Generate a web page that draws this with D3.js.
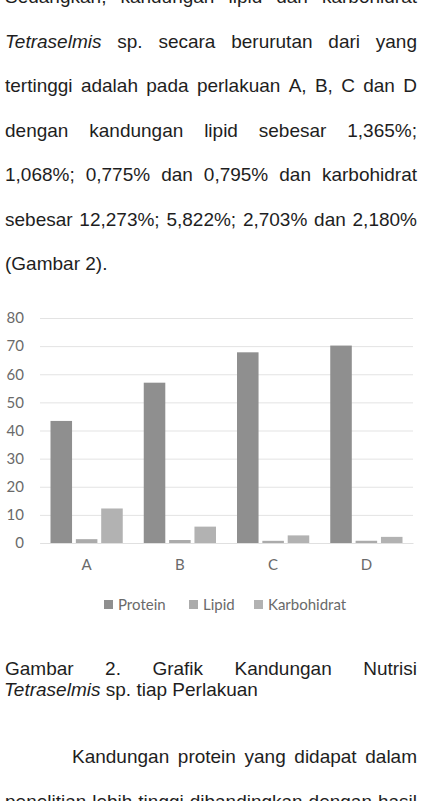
<!DOCTYPE html>
<html>
<head>
<meta charset="utf-8">
<script src="https://cdn.jsdelivr.net/npm/d3@7/dist/d3.min.js"></script>
<style>
html,body{margin:0;padding:0;background:#fff;overflow:hidden;}
svg{display:block;}
</style>
</head>
<body>
<svg id="c" width="429" height="801"></svg>
<script>
// ---- data ----
const categories = ["A", "B", "C", "D"];
const seriesNames = ["Protein", "Lipid", "Karbohidrat"];
const protein = [43.4, 57.0, 67.8, 70.2];
const lipid = [1.365, 1.068, 0.775, 0.795];
const karbohidrat = [12.273, 5.822, 2.703, 2.180];
const yTicks = [0, 10, 20, 30, 40, 50, 60, 70, 80];

// body text lines: [words..], italic marked with *
const textBefore = [
  "Sedangkan, kandungan lipid dan karbohidrat",
  "*Tetraselmis* sp. secara berurutan dari yang",
  "tertinggi adalah pada perlakuan A, B, C dan D",
  "dengan kandungan lipid sebesar 1,365%;",
  "1,068%; 0,775% dan 0,795% dan karbohidrat",
  "sebesar 12,273%; 5,822%; 2,703% dan 2,180%",
  "(Gambar 2)."
];
const captionLines = [
  "Gambar 2. Grafik Kandungan Nutrisi",
  "*Tetraselmis* sp. tiap Perlakuan"
];
const textAfter = [
  "Kandungan protein yang didapat dalam",
  "penelitian lebih tinggi dibandingkan dengan hasil"
];

const svg = d3.select("#c");
const bodyFont = "'Liberation Sans', Arial, sans-serif";
const chartFont = "Lato, 'Open Sans', sans-serif";

function drawLine(str, x0, x1, baseline, justify) {
  const words = str.split(" ").map(w => {
    const it = w.startsWith("*") && w.endsWith("*");
    return {t: it ? w.slice(1, -1) : w, it};
  });
  const g = svg.append("text")
    .attr("y", baseline)
    .attr("font-family", bodyFont)
    .attr("font-size", 19)
    .attr("fill", "#1e1e1e");
  const spans = words.map(w => g.append("tspan")
    .attr("font-style", w.it ? "italic" : "normal")
    .text(w.t));
  const widths = spans.map(s => s.node().getComputedTextLength());
  const total = d3.sum(widths);
  const gap = justify && words.length > 1 ? (x1 - x0 - total) / (words.length - 1) : 5.3;
  let x = x0;
  spans.forEach((s, i) => { s.attr("x", x); x += widths[i] + gap; });
}

// paragraph before chart
const left = 5, right = 417;
textBefore.forEach((l, i) => drawLine(l, left, right, 3 + i * 44.5, i < textBefore.length - 1));

// ---- chart ----
const x0 = d3.scaleBand().domain(categories).range([40, 413]).padding(0);
const x1 = d3.scaleBand().domain(seriesNames)
  .range([10.5, x0.bandwidth() - 10.5]).paddingInner(0.15);
const y = d3.scaleLinear().domain([0, 80]).range([543, 318]);
const colors = {Protein: "#8f8f8f", Lipid: "#ababab", Karbohidrat: "#b2b2b2"};
const seriesData = {Protein: protein, Lipid: lipid, Karbohidrat: karbohidrat};

// gridlines
const yAxis = d3.axisLeft(y).tickValues(yTicks).tickSize(-(413 - 40)).tickPadding(16);
const ga = svg.append("g").attr("transform", "translate(40,0)").call(yAxis);
ga.select(".domain").remove();
ga.selectAll(".tick line").attr("stroke", "#e3e3e3").attr("stroke-width", 1);
ga.selectAll(".tick text")
  .attr("font-family", chartFont).attr("font-size", 15).attr("fill", "#6a6a6a");

// bars
const groups = svg.append("g").selectAll("g").data(categories).join("g")
  .attr("transform", d => `translate(${x0(d)},0)`);
groups.selectAll("rect")
  .data((d, i) => seriesNames.map(s => ({s, v: seriesData[s][i]})))
  .join("rect")
  .attr("x", d => x1(d.s))
  .attr("width", x1.bandwidth())
  .attr("y", d => y(d.v))
  .attr("height", d => y(0) - y(d.v))
  .attr("fill", d => colors[d.s]);

// x axis labels
const xAxis = d3.axisBottom(x0).tickSize(0).tickPadding(16);
const gx = svg.append("g").attr("transform", "translate(0,543)").call(xAxis);
gx.select(".domain").attr("stroke", "#e0e0e0");
gx.selectAll(".tick text")
  .attr("font-family", chartFont).attr("font-size", 15).attr("fill", "#6a6a6a");

// legend
const legendX = [104, 189, 254];
const lg = svg.append("g").selectAll("g").data(seriesNames).join("g")
  .attr("transform", (d, i) => `translate(${legendX[i]},600)`);
lg.append("rect").attr("width", 9).attr("height", 9).attr("fill", d => colors[d]);
lg.append("text").attr("x", 14).attr("y", 10)
  .attr("font-family", chartFont).attr("font-size", 15).attr("fill", "#6a6a6a")
  .text(d => d);

// caption
drawLine(captionLines[0], left, right, 675, true);
drawLine(captionLines[1], left - 1, right, 696, false);

// paragraph after
drawLine(textAfter[0], 72, right, 763, true);
drawLine(textAfter[1], left, right, 807.5, true);
</script>
</body>
</html>
